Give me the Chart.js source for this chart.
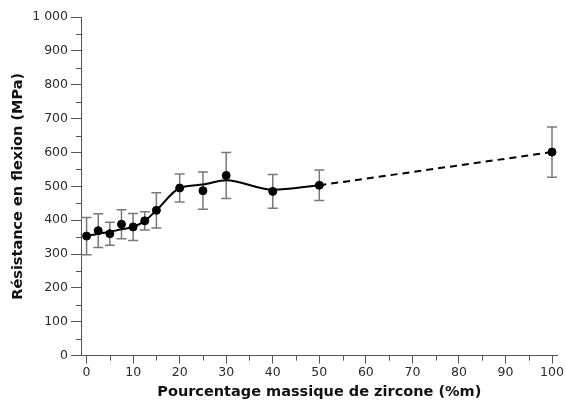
<!DOCTYPE html>
<html>
<head>
<meta charset="utf-8">
<script src="https://cdn.jsdelivr.net/npm/chart.js@4/dist/chart.umd.min.js"></script>
<style>
    html, body { margin: 0; padding: 0; background: #fff; }
    #wrap { width: 566px; height: 403px; }
</style>
</head>
<body>
<div id="wrap"><canvas id="chartZircone"></canvas></div>
<script>
// measured points (zirconia wt%, flexural strength MPa, +/- error)
const zircone = [0, 2.5, 5, 7.5, 10, 12.5, 15, 20, 25, 30, 40, 50, 100];
const resistance = [353, 369, 360, 388, 380, 398, 429, 495, 487, 532, 485, 503, 601];
const erreur = [55, 50, 34, 43, 40, 27, 52, 41, 55, 68, 50, 45, 74];

// smoothed trend line
const courbeX = [0, 2.5, 5, 7.5, 10, 12.5, 15, 20, 25, 30, 40, 50];
const courbeY = [353, 360, 366, 373, 380, 398, 429, 495, 505, 518, 490, 503];

// dashed extrapolation
const tiretsX = [50, 100];
const tiretsY = [503, 601];

const xTicks = [0, 10, 20, 30, 40, 50, 60, 70, 80, 90, 100];
const yTicks = [0, 100, 200, 300, 400, 500, 600, 700, 800, 900, 1000];

(function() {
    const textColor = '#2b2b2b';
    const axisColor = '#555';

    function toPoints(xs, ys) {
        return xs.map(function (x, i) {
            return { x: x, y: ys[i] };
        });
    }

    const errorBars = {
        id: 'errorBars',
        beforeDatasetsDraw: function (chart) {
            const ctx = chart.ctx;
            const xs = chart.scales.x;
            const ys = chart.scales.y;
            ctx.save();
            ctx.strokeStyle = '#7a7a7a';
            ctx.lineWidth = 1.5;
            zircone.forEach(function (x, i) {
                const px = xs.getPixelForValue(x);
                const top = ys.getPixelForValue(resistance[i] + erreur[i]);
                const bot = ys.getPixelForValue(resistance[i] - erreur[i]);
                ctx.beginPath();
                ctx.moveTo(px, top);
                ctx.lineTo(px, bot);
                ctx.moveTo(px - 5, top);
                ctx.lineTo(px + 5, top);
                ctx.moveTo(px - 5, bot);
                ctx.lineTo(px + 5, bot);
                ctx.stroke();
            });
            ctx.restore();
        }
    };

    const minorTicks = {
        id: 'minorTicks',
        afterDraw: function (chart) {
            const ctx = chart.ctx;
            const xs = chart.scales.x;
            const ys = chart.scales.y;
            ctx.save();
            ctx.strokeStyle = axisColor;
            ctx.lineWidth = 1;
            ctx.beginPath();
            for (let v = 5; v < 100; v += 10) {
                const px = Math.round(xs.getPixelForValue(v)) + 0.5;
                ctx.moveTo(px, xs.top);
                ctx.lineTo(px, xs.top + 5);
            }
            for (let v = 50; v < 1000; v += 100) {
                const py = Math.round(ys.getPixelForValue(v)) + 0.5;
                ctx.moveTo(ys.right, py);
                ctx.lineTo(ys.right - 5, py);
            }
            ctx.stroke();
            ctx.restore();
        }
    };

    function renderChart() {
        return new Chart('chartZircone', {
            type: 'scatter',
            data: {
                datasets: [
                    {
                        type: 'line',
                        data: toPoints(courbeX, courbeY),
                        borderColor: '#000',
                        borderWidth: 2,
                        cubicInterpolationMode: 'monotone',
                        pointRadius: 0,
                        fill: false
                    },
                    {
                        type: 'line',
                        data: toPoints(tiretsX, tiretsY),
                        borderColor: '#000',
                        borderWidth: 2,
                        borderDash: [7, 5],
                        pointRadius: 0,
                        fill: false
                    },
                    {
                        data: toPoints(zircone, resistance),
                        backgroundColor: '#000',
                        borderColor: '#000',
                        pointRadius: 4,
                        pointHoverRadius: 4
                    }
                ]
            },
            options: {
                responsive: true,
                maintainAspectRatio: false,
                animation: false,
                layout: {
                    padding: { top: 17, right: 6, left: 10, bottom: 2 }
                },
                plugins: {
                    legend: { display: false },
                    tooltip: { enabled: false }
                },
                scales: {
                    x: {
                        type: 'linear',
                        min: -1.2,
                        max: 101.2,
                        afterBuildTicks: function (scale) {
                            scale.ticks = xTicks.map(function (v) { return { value: v }; });
                        },
                        grid: {
                            drawOnChartArea: false,
                            tickLength: 8,
                            color: axisColor
                        },
                        border: { color: axisColor, width: 1 },
                        ticks: {
                            color: textColor,
                            padding: 2,
                            maxRotation: 0,
                            font: { family: 'DejaVu Sans', size: 12.5 }
                        },
                        title: {
                            display: true,
                            text: 'Pourcentage massique de zircone (%m)',
                            color: '#111',
                            padding: { top: 1, bottom: 0 },
                            font: { family: 'DejaVu Sans', size: 14.5, weight: 'bold' }
                        }
                    },
                    y: {
                        min: 0,
                        max: 1000,
                        afterBuildTicks: function (scale) {
                            scale.ticks = yTicks.map(function (v) { return { value: v }; });
                        },
                        afterFit: function (scale) {
                            scale.width = 71;
                        },
                        grid: {
                            drawOnChartArea: false,
                            tickLength: 10,
                            color: axisColor
                        },
                        border: { color: axisColor, width: 1 },
                        ticks: {
                            color: textColor,
                            padding: 3,
                            font: { family: 'DejaVu Sans', size: 12.5 },
                            callback: function (v) {
                                return v >= 1000 ? '1 000' : String(v);
                            }
                        },
                        title: {
                            display: true,
                            text: 'Résistance en flexion (MPa)',
                            color: '#111',
                            padding: { top: 0, bottom: 4 },
                            font: { family: 'DejaVu Sans', size: 14.5, weight: 'bold' }
                        }
                    }
                }
            },
            plugins: [errorBars, minorTicks]
        });
    }

    window.zirconeChart = renderChart();
})();
</script>
</body>
</html>
